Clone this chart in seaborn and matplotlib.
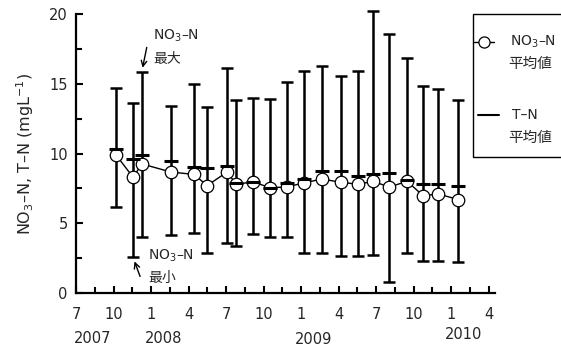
import numpy as np
import matplotlib.pyplot as plt
import seaborn as sns
from matplotlib.patches import Rectangle
from matplotlib.lines import Line2D
import matplotlib.transforms as mtransforms

# x = months counted from July 2007
month = [3.2, 4.56, 5.28, 7.6, 9.44, 10.48, 12.08, 12.8, 14.16, 15.52, 16.88,
         18.24, 19.68, 21.2, 22.56, 23.76, 25.04, 26.48, 27.76, 28.96, 30.56]
no3_mean = [9.9, 8.3, 9.25, 8.67, 8.5, 7.7, 8.67, 7.8, 7.96, 7.55, 7.6,
            7.9, 8.17, 7.93, 7.8, 8.0, 7.6, 8.0, 6.97, 7.1, 6.7]
no3_max = [14.72, 13.64, 15.82, 13.43, 15.0, 13.33, 16.15, 13.84, 14.0, 13.88, 15.16,
           15.94, 16.3, 15.53, 15.89, 20.24, 18.54, 16.82, 14.86, 14.6, 13.81]
no3_min = [6.14, 2.56, 4.04, 4.16, 4.32, 2.87, 3.61, 3.39, 4.2, 4.04, 4.04,
           2.84, 2.84, 2.65, 2.67, 2.72, 0.79, 2.89, 2.32, 2.29, 2.2]
tn_mean = [10.3, 9.6, 9.9, 9.46, 9.05, 8.98, 9.12, 7.9, 7.97, 7.55, 7.9,
           8.2, 8.77, 8.77, 8.4, 8.5, 8.6, 8.1, 7.8, 7.8, 7.7]

tick_pos = [0, 3, 6, 9, 12, 15, 18, 21, 24, 27, 30, 33]
tick_labels = ['7', '10', '1', '4', '7', '10', '1', '4', '7', '10', '1', '4']
year_pos = [1.3, 7.0, 19.0, 31.0]
year_labels = ['2007', '2008', '2009', '2010']

sns.set_style('ticks')
plt.rcParams['font.family'] = ['DejaVu Sans', 'Noto Sans CJK JP']
plt.rcParams['mathtext.default'] = 'regular'

W, H = 561, 347
fig = plt.figure(figsize=(W / 100, H / 100), dpi=100)
ax = fig.add_axes([76 / W, 1 - 293 / H, (495 - 76) / W, (293 - 14) / H])

mean = np.array(no3_mean)
yerr = [mean - np.array(no3_min), np.array(no3_max) - mean]
ax.errorbar(month, no3_mean, yerr=yerr, fmt='none', ecolor='black',
            elinewidth=1.8, capsize=4.5, capthick=1.8, zorder=2, clip_on=False)
sns.lineplot(x=month, y=no3_mean, ax=ax, color='black', linewidth=1,
             marker='o', markersize=9, markerfacecolor='white',
             markeredgecolor='black', markeredgewidth=0.9, zorder=3)
ax.plot(month, tn_mean, linestyle='none', marker='_', markersize=10,
        markeredgewidth=2.2, color='black', zorder=4)

ax.set_xlim(0, 33.5)
ax.set_ylim(0, 20)
ax.set_xticks(tick_pos)
ax.set_xticklabels(tick_labels)
ax.set_xticks(np.arange(1.5, 33, 3), minor=True)
ax.set_yticks([0, 5, 10, 15, 20])
ax.set_yticks([2.5, 7.5, 12.5, 17.5], minor=True)
ax.tick_params(which='both', direction='in', width=1.5, labelsize=10.5, color='black')
ax.tick_params(which='major', length=5)
ax.tick_params(which='minor', length=4)
ax.tick_params(axis='y', pad=6)
ax.tick_params(axis='x', pad=10)
for s in ['top', 'right']:
    ax.spines[s].set_visible(False)
for s in ['left', 'bottom']:
    ax.spines[s].set_linewidth(1.6)
    ax.spines[s].set_color('black')

ax.set_ylabel('NO$_3$–N, T–N (mgL$^{-1}$)', fontsize=11.5, labelpad=9)

yt = mtransforms.blended_transform_factory(ax.transData, ax.transAxes)
year_y = [-0.162, -0.162, -0.167, -0.148]
for xp, yp, lab in zip(year_pos, year_y, year_labels):
    ax.text(xp, yp, lab, transform=yt, ha='center', va='center', fontsize=10.5)

ax.annotate('', xy=(5.28, 15.95), xytext=(5.7, 17.8),
            arrowprops=dict(arrowstyle='->', color='black', lw=1))
ax.text(6.16, 18.42, 'NO$_3$–N', ha='left', va='center', fontsize=10)
ax.text(6.16, 16.77, '最大', ha='left', va='center', fontsize=10)
ax.annotate('', xy=(4.6, 2.45), xytext=(5.2, 1.0),
            arrowprops=dict(arrowstyle='->', color='black', lw=1))
ax.text(5.76, 2.65, 'NO$_3$–N', ha='left', va='center', fontsize=10)
ax.text(5.76, 1.08, '最小', ha='left', va='center', fontsize=10)


def px(x, y):
    return x / W, 1 - y / H


bx, by = px(473, 157)
fig.add_artist(Rectangle((bx, by), (600 - 473) / W, (157 - 14) / H,
                         transform=fig.transFigure, fill=False,
                         edgecolor='black', linewidth=1))
x0, y0 = px(474, 42)
x1, _ = px(494, 42)
fig.add_artist(Line2D([x0, x1], [y0, y0], transform=fig.transFigure,
                      color='black', linewidth=1))
xm, _ = px(484, 42)
fig.add_artist(Line2D([xm], [y0], transform=fig.transFigure, marker='o',
                      markersize=8, markerfacecolor='white',
                      markeredgecolor='black', markeredgewidth=0.9))
fig.text(*px(510, 42), 'NO$_3$–N', ha='left', va='center', fontsize=10)
fig.text(*px(530, 63), '平均値', ha='center', va='center', fontsize=10.5)
x0, y1 = px(478, 115)
x1, _ = px(499, 115)
fig.add_artist(Line2D([x0, x1], [y1, y1], transform=fig.transFigure,
                      color='black', linewidth=1.5))
fig.text(*px(512, 115), 'T–N', ha='left', va='center', fontsize=10)
fig.text(*px(530, 137), '平均値', ha='center', va='center', fontsize=10.5)

fig.savefig('out.png', dpi=100)
